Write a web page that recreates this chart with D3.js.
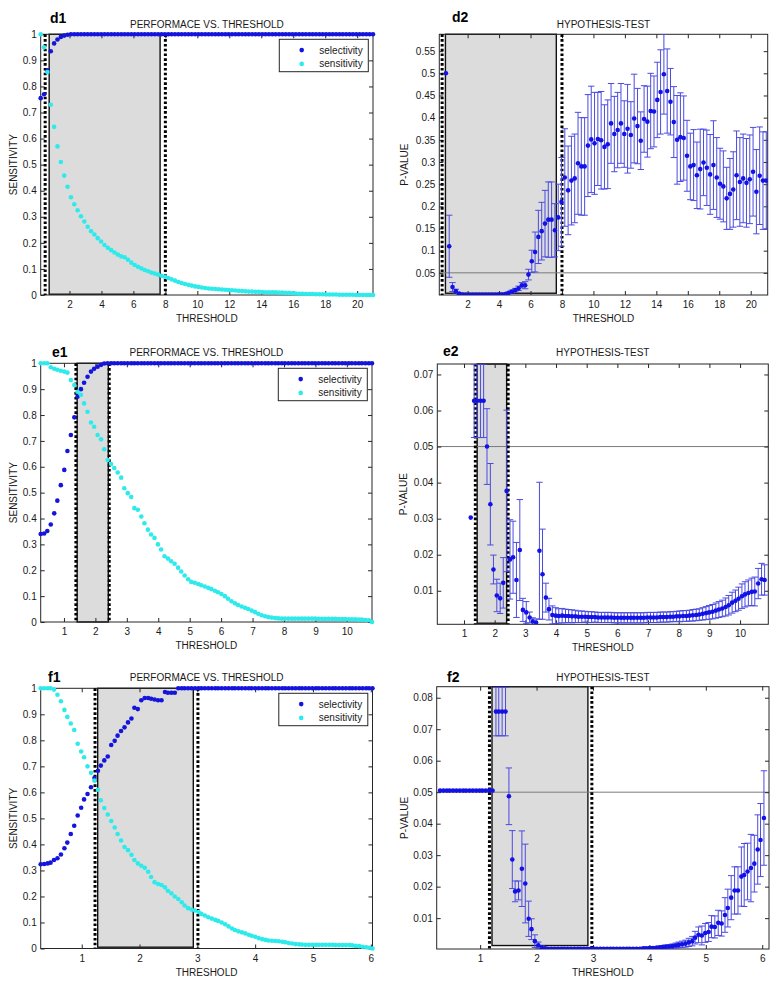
<!DOCTYPE html>
<html><head><meta charset="utf-8">
<script src="https://cdn.jsdelivr.net/npm/d3@7"></script>
<style>
body{margin:0;background:#fff;}
svg{display:block;}
</style></head><body>
<svg id="chart" width="779" height="984"></svg>
<script>
// ---------------- DATA ----------------
const dThreshold = [0.2,0.41,0.62,0.83,1.04,1.25,1.46,1.67,1.88,2.09,
 2.3,2.51,2.72,2.93,3.14,3.35,3.56,3.77,3.98,4.19,
 4.4,4.61,4.82,5.03,5.24,5.45,5.66,5.87,6.08,6.29,
 6.5,6.71,6.92,7.13,7.34,7.55,7.76,7.97,8.18,8.39,
 8.6,8.81,9.02,9.23,9.44,9.65,9.86,10.07,10.28,10.49,
 10.7,10.91,11.12,11.33,11.54,11.75,11.96,12.17,12.38,12.59,
 12.8,13.01,13.22,13.43,13.64,13.85,14.06,14.27,14.48,14.69,
 14.9,15.11,15.32,15.53,15.74,15.95,16.16,16.37,16.58,16.79,
 17.0,17.21,17.42,17.63,17.84,18.05,18.26,18.47,18.68,18.89,
 19.1,19.31,19.52,19.73,19.94,20.15,20.36,20.57,20.78,20.99];
const d1Selectivity = [0.755,0.77,0.862,0.935,0.965,0.98,0.99,0.995,0.998,1,
 1,1,1,1,1,1,1,1,1,1, 1,1,1,1,1,1,1,1,1,1, 1,1,1,1,1,1,1,1,1,1,
 1,1,1,1,1,1,1,1,1,1, 1,1,1,1,1,1,1,1,1,1, 1,1,1,1,1,1,1,1,1,1,
 1,1,1,1,1,1,1,1,1,1, 1,1,1,1,1,1,1,1,1,1, 1,1,1,1,1,1,1,1,1,1];
const d1Sensitivity = [1.0,0.95,0.855,0.73,0.645,0.57,0.51,0.458,0.415,0.375,
 0.348,0.325,0.302,0.282,0.262,0.245,0.232,0.218,0.205,0.192,
 0.181,0.172,0.163,0.155,0.148,0.145,0.135,0.124,0.115,0.108,
 0.102,0.096,0.091,0.086,0.082,0.078,0.074,0.07,0.065,0.06,
 0.055,0.05,0.046,0.042,0.039,0.036,0.033,0.031,0.029,0.027,
 0.025,0.024,0.023,0.022,0.021,0.02,0.019,0.018,0.017,0.016,
 0.015,0.014,0.013,0.013,0.012,0.012,0.011,0.01,0.01,0.01,
 0.01,0.009,0.009,0.008,0.008,0.007,0.006,0.005,0.005,0.004,
 0.004,0.004,0.003,0.003,0.003,0.002,0.002,0.002,0.002,0.001,
 0.001,0.001,0.001,0.001,0,0,0,0,0,0];
const d2PValue = [null,null,0.5,0.11,0.018,0.009,0.003,0.001,0.0005,0.0005,
 0.0005,0.0005,0.0005,0.0005,0.0005,0.0005,0.0005,0.0005,0.001,0.001,
 0.002,0.005,0.008,0.011,0.015,0.022,0.022,0.046,0.076,0.097,
 0.131,0.144,0.161,0.17,0.17,0.146,0.175,0.21,0.265,0.236,
 0.258,0.263,0.297,0.29,0.29,0.337,0.351,0.342,0.352,0.349,
 0.334,0.34,0.387,0.363,0.372,0.387,0.363,0.375,0.361,0.398,
 0.381,0.348,0.397,0.391,0.415,0.414,0.44,0.458,0.498,0.46,
 0.436,0.39,0.35,0.356,0.354,0.314,0.29,0.293,0.27,0.284,
 0.299,0.287,0.272,0.293,0.265,0.251,0.245,0.218,0.228,0.238,
 0.27,0.255,0.263,0.253,0.261,0.278,0.233,0.269,0.258,0.258];
const d2PError = [0,0,0,0.07,0.01,0.004,0.001,0.001,0.001,0.001,
 0.001,0.001,0.001,0.001,0.001,0.001,0.001,0.001,0.001,0.001,
 0.001,0.002,0.003,0.004,0.005,0.006,0.008,0.012,0.025,0.045,
 0.06,0.065,0.075,0.085,0.085,0.06,0.075,0.1,0.11,0.1,
 0.1,0.1,0.115,0.11,0.11,0.115,0.12,0.115,0.105,0.11,
 0.095,0.1,0.09,0.085,0.085,0.09,0.075,0.1,0.075,0.1,
 0.085,0.065,0.075,0.08,0.085,0.08,0.085,0.095,0.09,0.095,
 0.075,0.08,0.1,0.1,0.095,0.08,0.075,0.08,0.075,0.09,
 0.075,0.085,0.09,0.1,0.09,0.08,0.08,0.07,0.08,0.085,
 0.1,0.1,0.1,0.1,0.1,0.1,0.095,0.11,0.11,0.11];

const eThreshold = [0.26,0.37,0.47,0.58,0.69,0.79,0.90,1.01,1.11,1.22,
 1.33,1.43,1.54,1.64,1.75,1.86,1.96,2.07,2.18,2.28,
 2.39,2.50,2.60,2.71,2.82,2.92,3.03,3.14,3.24,3.35,
 3.46,3.56,3.67,3.77,3.88,3.99,4.09,4.20,4.31,4.41,
 4.52,4.63,4.73,4.84,4.95,5.05,5.16,5.27,5.37,5.48,
 5.59,5.69,5.80,5.90,6.01,6.12,6.22,6.33,6.44,6.54,
 6.65,6.76,6.86,6.97,7.08,7.18,7.29,7.40,7.50,7.61,
 7.72,7.82,7.93,8.03,8.14,8.25,8.35,8.46,8.57,8.67,
 8.78,8.89,8.99,9.10,9.21,9.31,9.42,9.53,9.63,9.74,
 9.85,9.95,10.06,10.16,10.27,10.38,10.48,10.59,10.70,10.80];
const e1Selectivity = [0.34,0.342,0.352,0.377,0.42,0.469,0.529,0.588,0.661,0.723,
 0.791,0.871,0.9,0.925,0.948,0.968,0.979,0.987,0.994,0.999,
 1,1,1,1,1,1,1,1,1,1, 1,1,1,1,1,1,1,1,1,1, 1,1,1,1,1,1,1,1,1,1,
 1,1,1,1,1,1,1,1,1,1, 1,1,1,1,1,1,1,1,1,1, 1,1,1,1,1,1,1,1,1,1,
 1,1,1,1,1,1,1,1,1,1, 1,1,1,1,1,1,1,1,1,1];
const e1Sensitivity = [1,1,1,0.985,0.979,0.975,0.971,0.968,0.964,0.935,
 0.916,0.89,0.878,0.845,0.813,0.771,0.755,0.723,0.706,0.668,
 0.626,0.611,0.595,0.578,0.558,0.517,0.498,0.483,0.44,0.434,
 0.408,0.382,0.357,0.338,0.325,0.3,0.28,0.254,0.245,0.235,
 0.225,0.21,0.195,0.18,0.165,0.155,0.152,0.147,0.142,0.137,
 0.132,0.127,0.121,0.115,0.108,0.1,0.09,0.08,0.072,0.066,
 0.06,0.055,0.05,0.044,0.038,0.032,0.026,0.022,0.019,0.017,
 0.015,0.014,0.013,0.013,0.013,0.013,0.013,0.013,0.013,0.013,
 0.013,0.013,0.013,0.012,0.012,0.012,0.012,0.012,0.012,0.011,
 0.011,0.011,0.01,0.01,0.01,0.009,0.009,0.008,0.007,0];
const e2PValue = [null,null,null,null,null,null,null,null,null,0.0303,
 0.0627,0.0627,0.0627,0.0627,0.05,0.034,0.0159,0.0087,0.0079,0.0122,
 0.0377,0.0187,0.0193,0.013,0.0213,0.0047,0.004,0.0026,0.0015,0.0012,
 0.0211,0.0146,0.0081,0.0049,0.0033,0.0031,0.003,0.0031,0.003,0.003,
 0.0029,0.0029,0.0028,0.0028,0.0028,0.0027,0.0027,0.0027,0.0026,0.0026,
 0.0026,0.0026,0.0026,0.0025,0.0025,0.0025,0.0025,0.0025,0.0025,0.0025,
 0.0025,0.0025,0.0025,0.0026,0.0026,0.0026,0.0026,0.0027,0.0027,0.0027,
 0.0028,0.0028,0.0029,0.0029,0.003,0.003,0.0031,0.0032,0.0033,0.0034,
 0.0036,0.0038,0.004,0.0042,0.0045,0.0048,0.0051,0.0055,0.006,0.0067,
 0.0072,0.0078,0.0085,0.009,0.0094,0.0097,0.0098,0.012,0.0132,0.013];
const e2PError = [0,0,0,0,0,0,0,0,0,0,
 0.0102,0.0102,0.0102,0.0102,0.0105,0.0113,0.004,0.0045,0.0042,0.007,
 0.0224,0.011,0.01,0.0104,0.014,0.0032,0.003,0.0015,0.001,0.001,
 0.019,0.0125,0.004,0.003,0.0025,0.0022,0.002,0.002,0.0019,0.0018,
 0.0018,0.0017,0.0016,0.0016,0.0015,0.0015,0.0015,0.0014,0.0014,0.0014,
 0.0014,0.0014,0.0014,0.0014,0.0014,0.0014,0.0014,0.0014,0.0014,0.0014,
 0.0014,0.0014,0.0014,0.0014,0.0014,0.0014,0.0014,0.0014,0.0014,0.0014,
 0.0014,0.0014,0.0014,0.0015,0.0015,0.0015,0.0015,0.0016,0.0016,0.0016,
 0.0017,0.0018,0.0019,0.002,0.0021,0.0022,0.0023,0.0025,0.0027,0.0029,
 0.003,0.0032,0.0034,0.0035,0.0036,0.0038,0.004,0.0042,0.0044,0.0042];

const fThreshold = [0.29,0.35,0.41,0.46,0.52,0.58,0.64,0.70,0.75,0.81,
 0.87,0.93,0.99,1.04,1.10,1.16,1.22,1.28,1.33,1.39,
 1.45,1.51,1.57,1.62,1.68,1.74,1.80,1.86,1.91,1.97,
 2.03,2.09,2.15,2.20,2.26,2.32,2.38,2.44,2.49,2.55,
 2.61,2.67,2.73,2.78,2.84,2.90,2.96,3.02,3.07,3.13,
 3.19,3.25,3.31,3.36,3.42,3.48,3.54,3.60,3.65,3.71,
 3.77,3.83,3.89,3.94,4.00,4.06,4.12,4.18,4.23,4.29,
 4.35,4.41,4.47,4.52,4.58,4.64,4.70,4.76,4.81,4.87,
 4.93,4.99,5.05,5.10,5.16,5.22,5.28,5.34,5.39,5.45,
 5.51,5.57,5.63,5.68,5.74,5.80,5.86,5.92,5.97,6.03];
const f1Selectivity = [0.324,0.325,0.327,0.33,0.34,0.347,0.361,0.385,0.407,0.44,
 0.472,0.511,0.541,0.573,0.594,0.62,0.655,0.683,0.703,0.723,
 0.738,0.782,0.798,0.818,0.836,0.85,0.869,0.884,0.925,0.92,
 0.954,0.963,0.963,0.96,0.957,0.954,0.954,0.986,0.983,0.983,
 0.983,1,1,1,1,1,1,1,1,1, 1,1,1,1,1,1,1,1,1,1,
 1,1,1,1,1,1,1,1,1,1, 1,1,1,1,1,1,1,1,1,1,
 1,1,1,1,1,1,1,1,1,1, 1,1,1,1,1,1,1,1,1,1];
const f1Sensitivity = [1,1,1,1,0.995,0.975,0.95,0.917,0.89,0.865,
 0.84,0.787,0.757,0.735,0.7,0.675,0.645,0.61,0.57,0.54,
 0.515,0.49,0.465,0.44,0.415,0.39,0.378,0.36,0.34,0.327,
 0.318,0.31,0.295,0.275,0.255,0.248,0.244,0.235,0.222,0.212,
 0.2,0.19,0.178,0.165,0.155,0.15,0.146,0.14,0.133,0.127,
 0.12,0.115,0.11,0.106,0.1,0.093,0.085,0.077,0.071,0.066,
 0.062,0.058,0.053,0.049,0.045,0.04,0.036,0.033,0.031,0.03,
 0.029,0.028,0.026,0.024,0.021,0.019,0.017,0.016,0.015,0.014,
 0.014,0.014,0.014,0.014,0.014,0.014,0.014,0.014,0.013,0.013,
 0.013,0.013,0.013,0.012,0.01,0.009,0.007,0.005,0.003,0];
const f2PValue = [0.0505,0.0505,0.0505,0.0505,0.0505,0.0505,0.0505,0.0505,0.0505,0.0505,
 0.0505,0.0505,0.0505,0.0505,0.0505,0.0505,0.0505,0.0756,0.0756,0.0756,
 0.0756,0.0487,0.0286,0.0185,0.0188,0.0257,0.021,0.0098,0.0065,0.0027,
 0.0014,0.0007,0.0004,0.0003,0.0003,0.0003,0.0003,0.0003,0.0003,0.0003,
 0.0003,0.0003,0.0003,0.0003,0.0003,0.0003,0.0003,0.0003,0.0003,0.0003,
 0.0003,0.0003,0.0003,0.0003,0.0003,0.0003,0.0003,0.0003,0.0003,0.0003,
 0.0003,0.0003,0.0004,0.0004,0.0005,0.0005,0.0006,0.0007,0.0008,0.0009,
 0.001,0.0011,0.0013,0.0015,0.0017,0.0019,0.0023,0.0027,0.0038,0.0047,
 0.0045,0.0053,0.0056,0.0073,0.0072,0.0085,0.0083,0.011,0.0132,0.0165,
 0.0188,0.0188,0.0232,0.0237,0.0248,0.0259,0.0273,0.0318,0.0348,0.0418];
const f2PError = [0,0,0,0,0,0,0,0,0,0,
 0,0,0,0,0,0,0,0.0077,0.0077,0.0077,
 0.0077,0.009,0.0092,0.0033,0.003,0.012,0.0125,0.0056,0.0033,0.002,
 0.001,0.0005,0.0002,0.0002,0.0002,0.0002,0.0002,0.0002,0.0002,0.0002,
 0.0002,0.0002,0.0002,0.0002,0.0002,0.0002,0.0002,0.0002,0.0002,0.0002,
 0.0002,0.0002,0.0002,0.0002,0.0002,0.0002,0.0002,0.0002,0.0002,0.0002,
 0.0002,0.0002,0.0003,0.0003,0.0003,0.0004,0.0004,0.0005,0.0005,0.0006,
 0.0006,0.0007,0.0008,0.0009,0.001,0.0011,0.0013,0.0015,0.002,0.0025,
 0.003,0.003,0.003,0.0035,0.0035,0.004,0.004,0.0055,0.006,0.007,
 0.0075,0.0075,0.0094,0.01,0.009,0.0107,0.009,0.011,0.0116,0.015];

// ticks
const dXTicks = [2,4,6,8,10,12,14,16,18,20];
const eXTicks = [1,2,3,4,5,6,7,8,9,10];
const fXTicks = [1,2,3,4,5,6];
const perfYTicks = [0,0.1,0.2,0.3,0.4,0.5,0.6,0.7,0.8,0.9,1];
const d2YTicks = [0.05,0.1,0.15,0.2,0.25,0.3,0.35,0.4,0.45,0.5,0.55];
const e2YTicks = [0.01,0.02,0.03,0.04,0.05,0.06,0.07];
const f2YTicks = [0.01,0.02,0.03,0.04,0.05,0.06,0.07,0.08];
const significance = 0.05;
const seriesNames = ["selectivity","sensitivity"];
const perfTitle = "PERFORMACE VS. THRESHOLD";
const testTitle = "HYPOTHESIS-TEST";
const xLabel = "THRESHOLD";
const perfYLabel = "SENSITIVITY";
const testYLabel = "P-VALUE";

// ---------------- DRAW ----------------
const FONT = '"Liberation Sans", Arial, Helvetica, sans-serif';
const INK = "#1a1a1a";
const SEL_COLOR = "#1414dc";
const SENS_COLOR = "#2eeaea";
const P_COLOR = "#1212e6";
const ERR_COLOR = "#4b4be2";
const svg = d3.select("#chart");
let clipCount = 0;

const panels = [
 {name:"d1", kind:"perf", L:40.7,R:373,T:34.3,B:295, xDomain:[0.2,20.99], yDomain:[0,1],
  xs:dThreshold, sel:d1Selectivity, sens:d1Sensitivity, xTicks:dXTicks, yTicks:perfYTicks,
  band:[0.73,7.67], bandY:[0.003,1], cuts:[0.48,8.0], labelX:50, labelY:22.5, titleY:28, yLabX:16.5},
 {name:"d2", kind:"test", L:439.3,R:767.7,T:34.3,B:295, xDomain:[0.2,21.08], yDomain:[0,0.588],
  xs:dThreshold, p:d2PValue, err:d2PError, xTicks:dXTicks, yTicks:d2YTicks,
  band:[0.59,7.64], bandY:[0.004,0.588], cuts:[0.38,8.0], labelX:452, labelY:21.7, titleY:28, yLabX:408},
 {name:"e1", kind:"perf", L:40.7,R:372,T:363.3,B:622, xDomain:[0.26,10.8], yDomain:[0,1],
  xs:eThreshold, sel:e1Selectivity, sens:e1Sensitivity, xTicks:eXTicks, yTicks:perfYTicks,
  band:[1.42,2.41], bandY:[0,1], cuts:[1.38,2.44], labelX:52, labelY:356.5, titleY:356, yLabX:16.5},
 {name:"e2", kind:"test", L:437.3,R:768.3,T:364,B:624.3, xDomain:[0.13,10.92], yDomain:[0.0007,0.0729],
  xs:eThreshold, p:e2PValue, err:e2PError, xTicks:eXTicks, yTicks:e2YTicks,
  band:[1.43,2.39], bandY:[0.001,0.0729], cuts:[1.37,2.44], labelX:443, labelY:356, titleY:356, yLabX:407},
 {name:"f1", kind:"perf", L:40.7,R:372.5,T:688.3,B:948.5, xDomain:[0.29,6.03], yDomain:[0,1],
  xs:fThreshold, sel:f1Selectivity, sens:f1Sensitivity, xTicks:fXTicks, yTicks:perfYTicks,
  band:[1.276,2.93], bandY:[0.005,1], cuts:[1.23,3.01], labelX:48, labelY:681.5, titleY:680.5, yLabX:16.5},
 {name:"f2", kind:"test", L:436.7,R:769,T:686.7,B:949, xDomain:[0.23,6.12], yDomain:[0.0002,0.0835],
  xs:fThreshold, p:f2PValue, err:f2PError, xTicks:fXTicks, yTicks:f2YTicks,
  band:[1.21,2.91], bandY:[0.0013,0.0835], cuts:[1.165,2.98], labelX:447, labelY:681.7, titleY:680.5, yLabX:408}
];

function drawPanel(p) {
  const x = d3.scaleLinear().domain(p.xDomain).range([p.L, p.R]);
  const y = d3.scaleLinear().domain(p.yDomain).range([p.B, p.T]);
  const g = svg.append("g");
  const cid = "clip" + (clipCount++);
  svg.append("clipPath").attr("id", cid).append("rect")
    .attr("x", p.L).attr("y", p.T).attr("width", p.R - p.L).attr("height", p.B - p.T);

  // shaded band
  g.append("rect")
    .attr("x", x(p.band[0])).attr("y", y(p.bandY[1]))
    .attr("width", x(p.band[1]) - x(p.band[0]))
    .attr("height", y(p.bandY[0]) - y(p.bandY[1]))
    .attr("fill", "#dcdcdc").attr("stroke", "#111").attr("stroke-width", 1.4);

  // significance line
  if (p.kind === "test") {
    g.append("line").attr("x1", p.L).attr("x2", p.R)
      .attr("y1", y(significance)).attr("y2", y(significance))
      .attr("stroke", "#7a7a7a").attr("stroke-width", 1);
  }

  // axes
  const fmt = d3.format("~g");
  const axes = [
    [d3.axisBottom(x).tickValues(p.xTicks).tickFormat(fmt).tickPadding(6), `translate(0,${p.B})`],
    [d3.axisTop(x).tickValues(p.xTicks).tickFormat(""), `translate(0,${p.T})`],
    [d3.axisLeft(y).tickValues(p.yTicks).tickFormat(fmt).tickPadding(4), `translate(${p.L},0)`],
    [d3.axisRight(y).tickValues(p.yTicks).tickFormat(""), `translate(${p.R},0)`]
  ];
  axes.forEach(([a, t]) => {
    const ag = g.append("g").attr("transform", t).call(a.tickSizeInner(-4).tickSizeOuter(0));
    ag.select(".domain").remove();
    ag.selectAll("line").attr("stroke", "#262626");
    ag.selectAll("text").attr("font-size", 10).attr("font-family", FONT).attr("fill", INK);
  });
  g.append("rect").attr("x", p.L).attr("y", p.T).attr("width", p.R - p.L).attr("height", p.B - p.T)
    .attr("fill", "none").attr("stroke", "#262626").attr("stroke-width", 1);

  // dotted cut lines
  p.cuts.forEach(c => {
    g.append("line").attr("x1", x(c)).attr("x2", x(c)).attr("y1", p.T).attr("y2", p.B)
      .attr("stroke", "#000").attr("stroke-width", 3).attr("stroke-dasharray", "2.6,2.2");
  });

  if (p.kind === "perf") {
    const sel = p.xs.map((t, i) => ({x: t, v: p.sel[i]}));
    const sens = p.xs.map((t, i) => ({x: t, v: p.sens[i]}));
    g.append("g").selectAll("circle").data(sel).join("circle")
      .attr("cx", d => x(d.x)).attr("cy", d => y(d.v)).attr("r", 2.3).attr("fill", SEL_COLOR);
    g.append("g").selectAll("circle").data(sens).join("circle")
      .attr("cx", d => x(d.x)).attr("cy", d => y(d.v)).attr("r", 2.3).attr("fill", SENS_COLOR);
    // legend
    const lx = p.R - 93.7, ly = p.T + 5;
    const lg = g.append("g");
    lg.append("rect").attr("x", lx).attr("y", ly).attr("width", 89).attr("height", 32.4)
      .attr("fill", "#fff").attr("stroke", "#262626").attr("stroke-width", 1);
    [SEL_COLOR, SENS_COLOR].forEach((c, k) => {
      const yy = ly + 10.8 + k * 13.8;
      lg.append("circle").attr("cx", lx + 22.4).attr("cy", yy).attr("r", 2.3).attr("fill", c);
      lg.append("text").attr("x", lx + 40).attr("y", yy + 3.5).text(seriesNames[k])
        .attr("font-size", 10).attr("font-family", FONT).attr("fill", INK);
    });
  } else {
    const pts = p.xs.map((t, i) => ({x: t, v: p.p[i], e: p.err[i]})).filter(d => d.v !== null);
    const eb = g.append("g").attr("clip-path", `url(#${cid})`)
      .attr("stroke", ERR_COLOR).attr("stroke-width", 1).attr("fill", "none");
    pts.filter(d => d.e > 0).forEach(d => {
      const cx = x(d.x), y0 = y(d.v - d.e), y1 = y(d.v + d.e);
      eb.append("line").attr("x1", cx).attr("x2", cx).attr("y1", y0).attr("y2", y1);
      eb.append("line").attr("x1", cx - 3.2).attr("x2", cx + 3.2).attr("y1", y0).attr("y2", y0);
      eb.append("line").attr("x1", cx - 3.2).attr("x2", cx + 3.2).attr("y1", y1).attr("y2", y1);
    });
    g.append("g").attr("clip-path", `url(#${cid})`).selectAll("circle").data(pts).join("circle")
      .attr("cx", d => x(d.x)).attr("cy", d => y(d.v)).attr("r", 2.3).attr("fill", P_COLOR);
  }

  // texts
  const cxm = (p.L + p.R) / 2;
  g.append("text").attr("x", cxm).attr("y", p.titleY).attr("text-anchor", "middle")
    .attr("font-size", 10).attr("font-family", FONT).attr("fill", INK)
    .text(p.kind === "perf" ? perfTitle : testTitle);
  g.append("text").attr("x", cxm).attr("y", p.B + 27).attr("text-anchor", "middle")
    .attr("font-size", 10).attr("font-family", FONT).attr("fill", INK).text(xLabel);
  const ym = (p.T + p.B) / 2;
  g.append("text").attr("transform", `translate(${p.yLabX},${ym}) rotate(-90)`)
    .attr("text-anchor", "middle").attr("font-size", 10).attr("font-family", FONT).attr("fill", INK)
    .text(p.kind === "perf" ? perfYLabel : testYLabel);
  g.append("text").attr("x", p.labelX).attr("y", p.labelY)
    .attr("font-size", 14).attr("font-weight", "bold").attr("font-family", FONT).attr("fill", "#000")
    .text(p.name);
}

panels.forEach(drawPanel);
</script>
</body></html>
